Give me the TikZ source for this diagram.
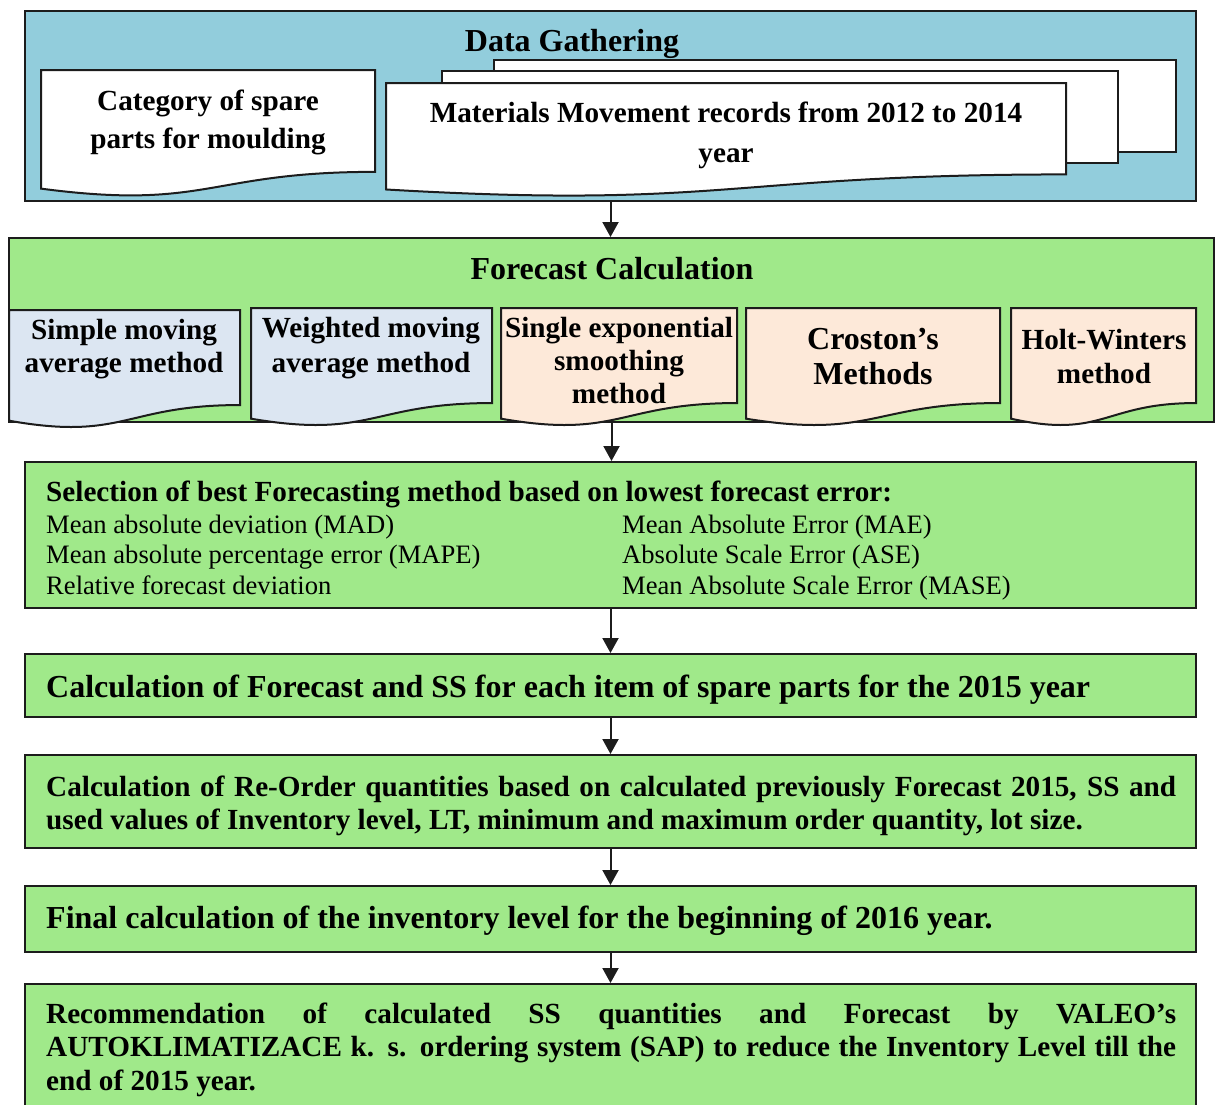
\documentclass[tikz,border=0pt]{standalone}
\usepackage{fontspec}
\setmainfont{Liberation Serif}
\usetikzlibrary{arrows.meta,fit}

\definecolor{gatherblue}{RGB}{146,205,220}
\definecolor{stepgreen}{RGB}{160,233,138}
\definecolor{paleblue}{RGB}{220,230,242}
\definecolor{palepeach}{RGB}{253,233,217}
\definecolor{edgeink}{RGB}{28,28,28}

% Flowchart "document" outline: name, fill, left, top, right, height
\newcommand{\flowdoc}[6]{%
  \pgfmathsetmacro\fdA{#4+0.802*#6}%
  \pgfmathsetmacro\fdB{#4+0.934*#6}%
  \pgfmathsetmacro\fdC{#4+1.1075*#6}%
  \pgfmathsetmacro\fdM{(#3+#5)/2}%
  \draw[docline, fill=#2] (#3,#4) coordinate (#1-nw) -- (#5,#4) coordinate (#1-ne)
    -- (#5,\fdA) .. controls (\fdM,\fdA) and (\fdM,\fdC) .. (#3,\fdB) -- cycle;
}

\tikzset{
  box/.style={draw=edgeink, line width=2pt, fill=stepgreen, inner sep=0pt},
  docline/.style={draw=edgeink, line width=2pt, line join=miter},
  arr/.style={draw=edgeink, line width=2pt, -{Triangle[length=15pt,width=16pt]}},
  bigb/.style={font=\fontsize{32}{35}\selectfont\bfseries, inner sep=0pt},
  midb/.style={font=\fontsize{29.2}{33}\selectfont\bfseries, inner sep=0pt},
  plain/.style={font=\fontsize{26.6}{31}\selectfont, inner sep=0pt, anchor=base west},
  doctext/.style={midb, align=center, anchor=base},
}

\begin{document}
\begin{tikzpicture}[x=1pt, y=-1pt]
  \useasboundingbox (0,0) rectangle (1216,1104);
  \clip (0,0) rectangle (1216,1104);

  % ---- Data gathering ----
  \node[box, fill=gatherblue, fit={(25,11) (1196,201)}] (dg) {};
  \node[bigb, anchor=base] (dgtitle) at (572,51) {Data Gathering};

  \flowdoc{cat}{white}{41}{70}{375}{127}
  \node[doctext, font=\fontsize{29.2}{38}\selectfont\bfseries] (cattext) at (208,148)
    {Category of spare\\parts for moulding};

  % stacked record pages
  \draw[docline, fill=white] (494,60) rectangle (1176,152);
  \draw[docline, fill=white] (442,71) rectangle (1118,163);
  \flowdoc{rec}{white}{386}{83}{1066}{114}
  \node[doctext, font=\fontsize{29.2}{40}\selectfont\bfseries] (rectext) at (726,162)
    {Materials Movement records from 2012 to 2014\\year};

  % ---- Forecast calculation ----
  \node[box, fit={(9,238) (1214,422)}] (fc) {};
  \node[bigb, anchor=base] (fctitle) at (612,279) {Forecast Calculation};

  \flowdoc{sma}{paleblue}{9}{310}{240}{118.5}
  \node[doctext, font=\fontsize{29.2}{33}\selectfont\bfseries] (smatext) at (124,372)
    {Simple moving\\average method};

  \flowdoc{wma}{paleblue}{251}{308}{492}{118.5}
  \node[doctext, font=\fontsize{29.2}{35}\selectfont\bfseries] (wmatext) at (371,372)
    {Weighted moving\\average method};

  \flowdoc{ses}{palepeach}{501}{308}{737}{118.5}
  \node[doctext] (sestext) at (619,403)
    {Single exponential\\smoothing\\method};

  \flowdoc{cro}{palepeach}{746}{308}{1000}{118.5}
  \node[doctext, font=\fontsize{32}{35}\selectfont\bfseries] (crotext) at (873,384)
    {Croston’s\\Methods};

  \flowdoc{hw}{palepeach}{1011}{308}{1196}{118.5}
  \node[doctext, font=\fontsize{29.2}{34}\selectfont\bfseries] (hwtext) at (1104,383)
    {Holt-Winters\\method};

  % ---- Selection of method ----
  \node[box, fit={(25,462) (1196,608)}] (sel) {};
  \node[midb, anchor=base west] (seltitle) at (46,501)
    {Selection of best Forecasting method based on lowest forecast error:};
  \node[plain] (mad)  at (46,533)  {Mean absolute deviation (MAD)};
  \node[plain] (mape) at (46,563)  {Mean absolute percentage error (MAPE)};
  \node[plain] (rfd)  at (46,594)  {Relative forecast deviation};
  \node[plain] (mae)  at (622,533) {Mean Absolute Error (MAE)};
  \node[plain] (ase)  at (622,563) {Absolute Scale Error (ASE)};
  \node[plain] (mase) at (622,594) {Mean Absolute Scale Error (MASE)};

  % ---- Forecast and SS ----
  \node[box, fit={(25,654) (1196,717)}] (fss) {};
  \node[bigb, anchor=base west] (fsstext) at (46,697)
    {Calculation of Forecast and SS for each item of spare parts for the 2015 year};

  % ---- Re-order quantities ----
  \node[box, fit={(25,755) (1196,848)}] (rop) {};
  \node[midb, align=left, anchor=base west] (roptext) at (46,829)
    {\makebox[1130pt][s]{Calculation of Re-Order quantities based on calculated previously Forecast 2015, SS and}\\
     used values of Inventory level, LT, minimum and maximum order quantity, lot size.};

  % ---- Final inventory level ----
  \node[box, fit={(25,886) (1196,952)}] (fin) {};
  \node[bigb, anchor=base west] (fintext) at (46,928)
    {Final calculation of the inventory level for the beginning of 2016 year.};

  % ---- Recommendation ----
  \node[box, fit={(25,984) (1196,1140)}] (rec2) {};
  \node[midb, align=left, anchor=base west, font=\fontsize{29.2}{33.5}\selectfont\bfseries] (rectext2) at (46,1090)
    {\makebox[1130pt][s]{Recommendation of calculated SS quantities and Forecast by VALEO’s}\\
     \makebox[1130pt][s]{AUTOKLIMATIZACE k. s. ordering system (SAP) to reduce the Inventory Level till the}\\
     end of 2015 year.};

  % ---- connectors ----
  \draw[arr] (dg.south)  -- (dg.south  |- fc.north);
  \draw[arr] (fc.south)  -- (fc.south  |- sel.north);
  \draw[arr] (sel.south) -- (sel.south |- fss.north);
  \draw[arr] (fss.south) -- (fss.south |- rop.north);
  \draw[arr] (rop.south) -- (rop.south |- fin.north);
  \draw[arr] (fin.south) -- (fin.south |- rec2.north);
\end{tikzpicture}
\end{document}
